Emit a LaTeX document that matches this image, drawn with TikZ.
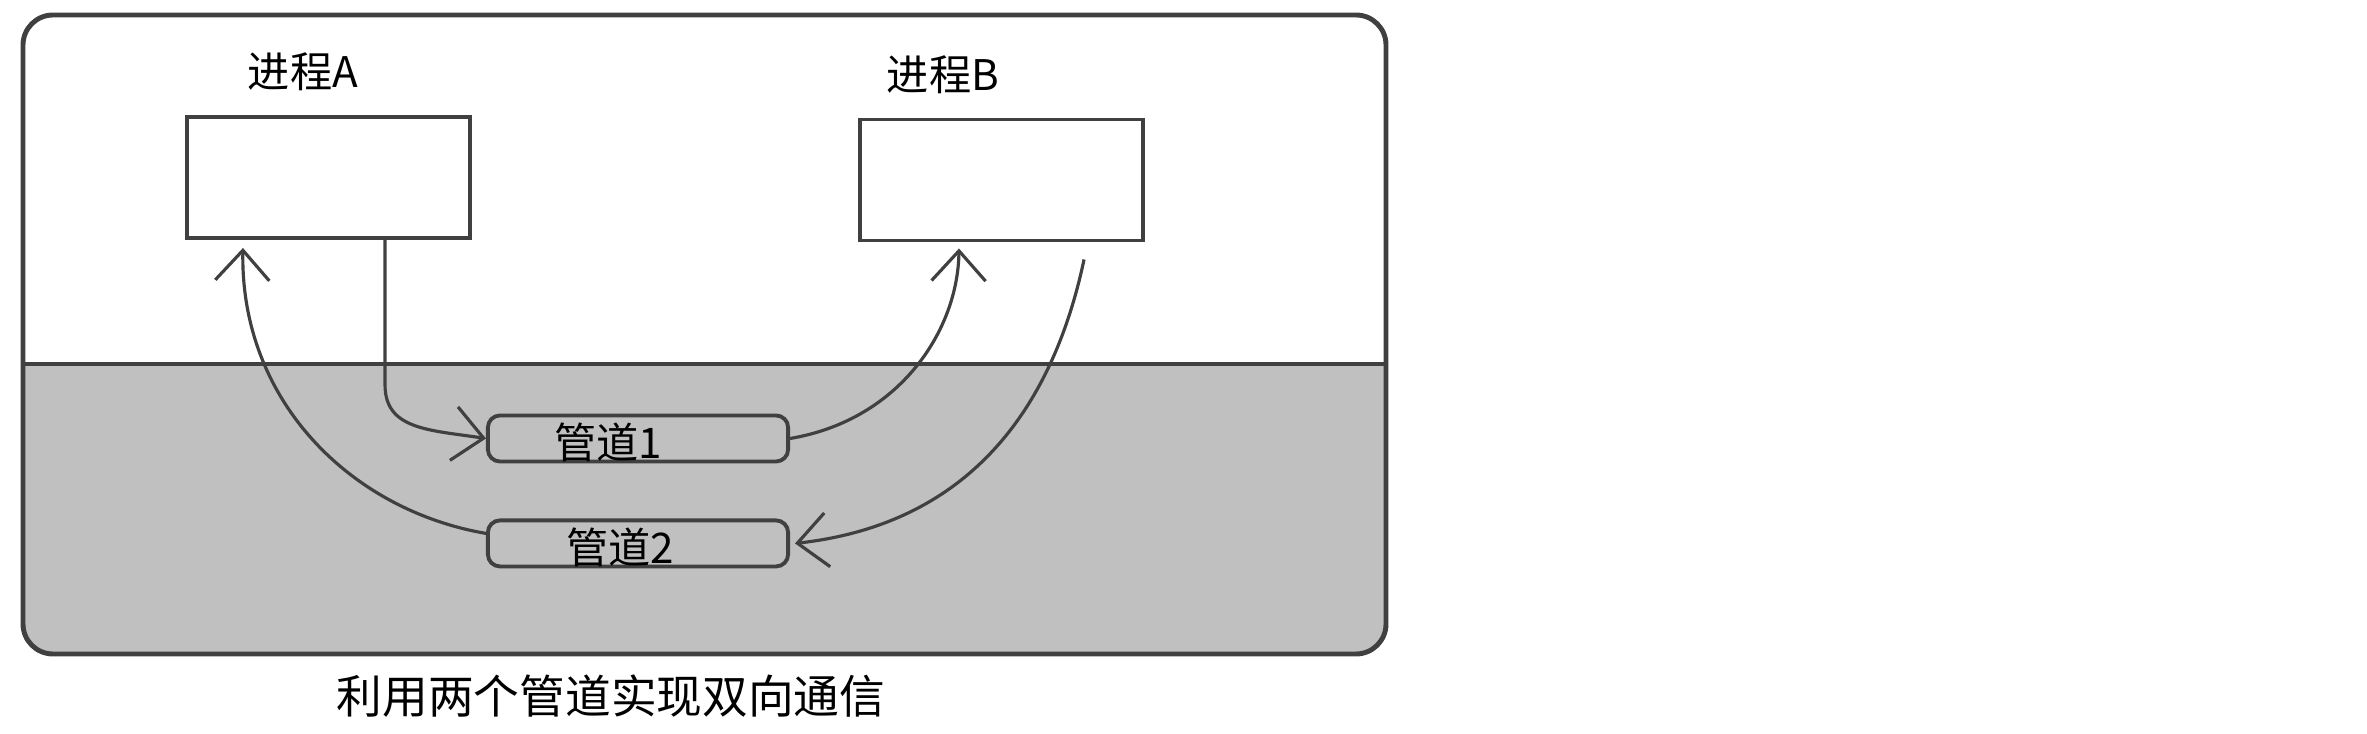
\documentclass[tikz,border=0pt]{standalone}
\usepackage{fontspec}
\newfontfamily\cjk{Noto Sans CJK SC}
\usetikzlibrary{positioning,arrows.meta}
\definecolor{inkline}{RGB}{64,64,64}
\definecolor{kernelgray}{RGB}{192,192,192}

\begin{document}
\begin{tikzpicture}[x=0.01cm, y=-0.01cm,
    proc/.style={rectangle, draw=inkline, line width=1.1pt, fill=white, minimum width=2.83cm, minimum height=1.21cm},
    pipe/.style={rectangle, rounded corners=0.12cm, draw=inkline, line width=1.1pt, minimum width=3cm, minimum height=0.46cm, inner sep=0pt},
    tag/.style={font=\cjk\fontsize{12}{14}\selectfont, inner sep=0pt},
    flow/.style={->, >={Straight Barb[length=3mm, width=5.4mm]}, draw=inkline, line width=0.9pt}]

    \useasboundingbox (0,0) rectangle (2367,734);

    % user space / kernel space frame
    \begin{scope}
        \clip [rounded corners=0.3cm] (23,15) rectangle (1386,654);
        \fill [kernelgray] (23,364) rectangle (1386,654);
    \end{scope}
    \draw [inkline, line width=0.9pt] (23,364) -- (1386,364);
    \draw [inkline, line width=1.4pt, rounded corners=0.3cm] (23,15) rectangle (1386,654);

    \node [proc] (procA) at (328.5,177.5) {};
    \node [proc] (procB) at (1001.5,180) {};
    \node [tag] (labA) at (303,72) {进程A};
    \node [tag] (labB) at (943,75) {进程B};

    \node [pipe, label={[tag, xshift=-0.3cm, yshift=-0.04cm]center:管道1}] (pipe1) at (638,438.5) {};
    \node [pipe, below=0.55cm of pipe1, label={[tag, xshift=-0.18cm, yshift=-0.04cm]center:管道2}] (pipe2) {};

    \draw [flow] ([xshift=0.565cm]procA.south) -- ++(0,145) .. controls +(0,45) and (430,430) .. (pipe1.west);
    \draw [flow] (pipe1.east) .. controls (900,420) and (958,330) .. ([xshift=-0.425cm, yshift=-0.06cm]procB.south);
    \draw [flow] ([xshift=0.825cm, yshift=-0.17cm]procB.south) .. controls (1050,420) and (960,525) .. ([xshift=0.05cm]pipe2.east);
    \draw [flow] ([yshift=0.1cm]pipe2.west) .. controls (350,510) and (240,400) .. ([xshift=-0.855cm, yshift=-0.08cm]procA.south);

    \node [font=\cjk\fontsize{13}{15}\selectfont] (caption) at (611,696) {利用两个管道实现双向通信};
\end{tikzpicture}
\end{document}
